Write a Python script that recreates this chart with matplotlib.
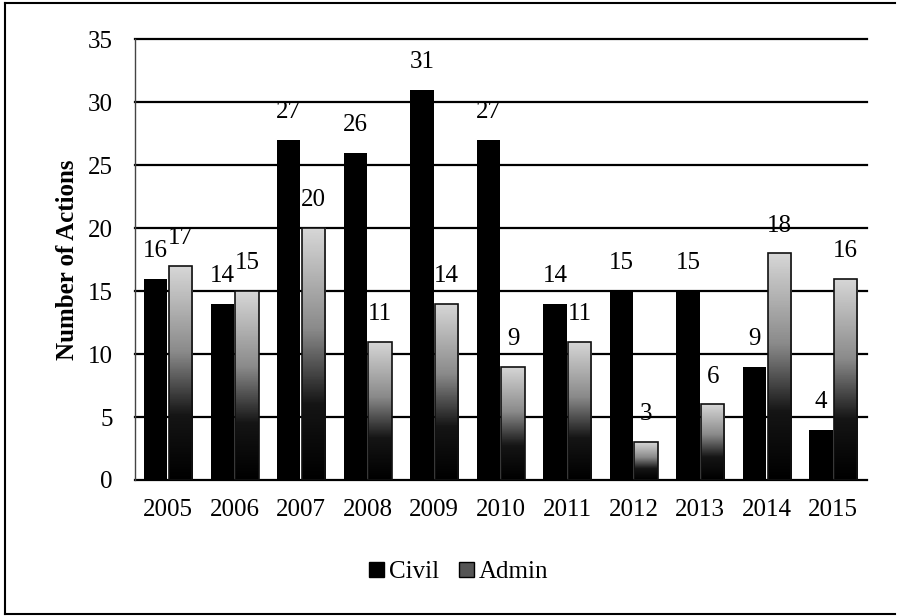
import numpy as np
import matplotlib.pyplot as plt
from matplotlib.colors import LinearSegmentedColormap
from matplotlib.patches import Patch
from matplotlib.lines import Line2D

years = ['2005', '2006', '2007', '2008', '2009', '2010', '2011', '2012', '2013', '2014', '2015']
civil = [16, 14, 27, 26, 31, 27, 14, 15, 15, 9, 4]
admin = [17, 15, 20, 11, 14, 9, 11, 3, 6, 18, 16]

plt.rcParams['font.family'] = ['Liberation Serif', 'DejaVu Serif']
fs = 18

fig = plt.figure(figsize=(8.99, 6.16), dpi=100)
ax = fig.add_axes([0.150, 0.2208, 0.814, 0.7152])

x = np.arange(len(years))
w = 0.35
off = 0.185

ax.bar(x - off, civil, w, color='black', zorder=3)

# admin bars: grey gradient, light on top, dark at the base
grad = LinearSegmentedColormap.from_list('g', [(0, '#000000'), (0.3, '#151515'),
                                              (0.6, '#8a8a8a'), (1.0, '#d6d6d6')])
g = np.linspace(0, 1, 100).reshape(-1, 1)
bars = ax.bar(x + off, admin, w, facecolor='none', edgecolor='#111111', linewidth=1.2, zorder=4)
for b in bars:
    x0, y0 = b.get_x(), b.get_y()
    im = ax.imshow(g, cmap=grad, origin='lower', aspect='auto', zorder=3,
                   extent=[x0, x0 + b.get_width(), y0, y0 + b.get_height()])
    im.set_clip_path(b)

for i in range(len(years)):
    ax.annotate(str(civil[i]), (x[i] - off, civil[i]), xytext=(0, 20), textcoords='offset points',
                ha='center', va='center', fontsize=fs, zorder=5)
    ax.annotate(str(admin[i]), (x[i] + off, admin[i]), xytext=(0, 20), textcoords='offset points',
                ha='center', va='center', fontsize=fs, zorder=5)

ax.set_xlim(-0.5, len(years) - 0.5)
ax.set_ylim(0, 35)
ax.set_yticks(range(0, 36, 5))
ax.set_xticks(x)
ax.set_xticklabels(years)
ax.tick_params(length=0, labelsize=fs)
ax.tick_params(axis='x', pad=14)
ax.tick_params(axis='y', pad=16)
for yv in range(0, 36, 5):
    ax.axhline(yv, color='black', linewidth=1.6, zorder=1, clip_on=False)
for s in ['top', 'right', 'bottom']:
    ax.spines[s].set_visible(False)
ax.spines['left'].set_color('#444444')
ax.spines['left'].set_linewidth(1.0)
ax.set_ylabel('Number of Actions', fontsize=fs, fontweight='bold', labelpad=6)

handles = [Patch(facecolor='black', edgecolor='black'),
           Patch(facecolor='#555555', edgecolor='black')]
fig.legend(handles, ['Civil', 'Admin'], loc='center', bbox_to_anchor=(0.51, 0.071), ncol=2,
           frameon=False, fontsize=fs, handlelength=0.6, handleheight=0.6,
           handletextpad=0.2, columnspacing=0.8)

# outer frame
fig.add_artist(Line2D([0.006, 0.006], [0.004, 0.995], color='black', linewidth=1.5))
fig.add_artist(Line2D([0.006, 0.995], [0.995, 0.995], color='black', linewidth=1.5))
fig.add_artist(Line2D([0.006, 0.995], [0.004, 0.004], color='black', linewidth=1.5))

fig.savefig('out.png', dpi=100)
